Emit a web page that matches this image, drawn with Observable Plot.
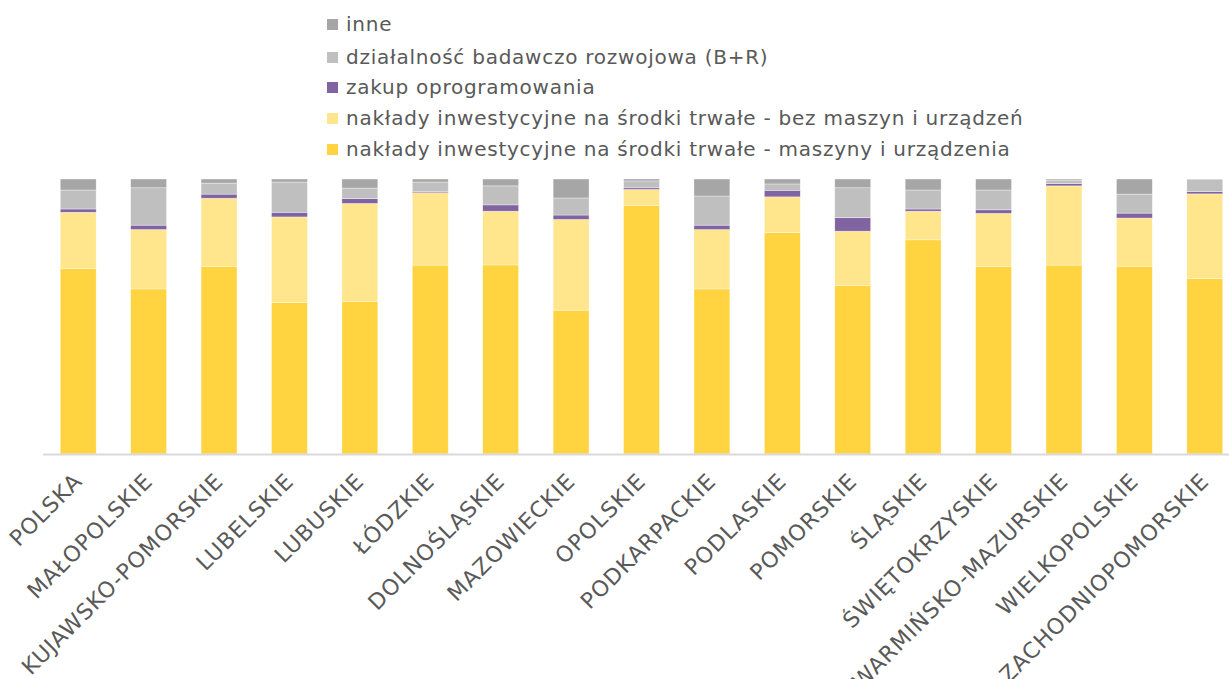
<!DOCTYPE html>
<html>
<head>
<meta charset="utf-8">
<script src="https://cdn.jsdelivr.net/npm/d3@7"></script>
<script src="https://cdn.jsdelivr.net/npm/@observablehq/plot@0.6"></script>
<style>
  body { margin: 0; background: #fff; font-family: "DejaVu Sans", sans-serif; }
  #legend { position: relative; height: 170px; width: 1229px; }
  .item { position: absolute; left: 327px; display: flex; align-items: center; color: #595959; font-size: 20px; letter-spacing: 0.75px; white-space: nowrap; }
  .sw { width: 11px; height: 11px; margin-right: 8px; }
</style>
</head>
<body>
<div id="legend"></div>
<div id="chart"></div>
<script>
const categories = ["POLSKA","MAŁOPOLSKIE","KUJAWSKO-POMORSKIE","LUBELSKIE","LUBUSKIE","ŁÓDZKIE","DOLNOŚLĄSKIE","MAZOWIECKIE","OPOLSKIE","PODKARPACKIE","PODLASKIE","POMORSKIE","ŚLĄSKIE","ŚWIĘTOKRZYSKIE","WARMIŃSKO-MAZURSKIE","WIELKOPOLSKIE","ZACHODNIOPOMORSKIE"];
const seriesNames = [
  "nakłady inwestycyjne na środki trwałe - maszyny i urządzenia",
  "nakłady inwestycyjne na środki trwałe - bez maszyn i urządzeń",
  "zakup oprogramowania",
  "działalność badawczo rozwojowa (B+R)",
  "inne"
];
const seriesColors = ["#ffd440", "#ffe58c", "#8064a2", "#bfbfbf", "#a6a6a6"];
const maszyny = [67.4,60.1,68.3,55.1,55.6,68.7,68.7,52.3,90.2,60.1,80.5,61.4,77.8,68.1,68.7,68.3,63.7];
const bezMaszyn = [20.5,21.6,24.8,31.1,35.6,26.3,19.5,33.0,5.9,21.6,13.0,19.7,10.4,19.4,28.8,17.5,30.8];
const oprogramowanie = [1.2,1.6,1.5,1.7,1.8,0.5,2.3,1.6,0.6,1.6,2.4,4.9,0.8,1.3,0.8,1.8,0.8];
const badawcze = [6.9,13.6,4.0,11.0,3.8,3.4,6.9,6.2,2.5,10.6,2.3,10.9,6.9,7.2,1.3,6.9,4.4];
const inne = [4.0,3.2,1.5,1.1,3.3,1.1,2.5,6.9,0.7,6.2,1.8,3.2,4.0,4.0,0.4,5.5,0.2];

const seriesValues = [maszyny, bezMaszyn, oprogramowanie, badawcze, inne];
const data = [];
seriesNames.forEach((s, si) => {
  categories.forEach((c, ci) => data.push({category: c, series: s, value: seriesValues[si][ci]}));
});

// legend (reverse order, top = inne)
const legend = document.getElementById("legend");
const tops = [12, 45, 75, 106, 137];
[...seriesNames].reverse().forEach((s, i) => {
  const color = seriesColors[seriesNames.length - 1 - i];
  const div = document.createElement("div");
  div.className = "item";
  div.style.top = tops[i] + "px";
  div.innerHTML = `<span class="sw" style="background:${color}"></span><span>${s}</span>`;
  legend.appendChild(div);
});

const chart = Plot.plot({
  width: 1229,
  height: 509,
  marginTop: 9,
  marginBottom: 225,
  marginLeft: 43,
  marginRight: 0,
  style: {fontFamily: "DejaVu Sans, sans-serif", fontSize: "22px", color: "#595959", background: "#fff", letterSpacing: "1px"},
  x: {domain: categories, range: [43, 1240], paddingInner: 0.49, paddingOuter: 0.245, round: false, label: null},
  y: {domain: [0, 1], axis: null},
  color: {domain: seriesNames, range: seriesColors},
  marks: [
    Plot.barY(data, Plot.stackY({offset: "normalize", order: null}, {x: "category", y: "value", fill: "series", stroke: "#ffffff", strokeOpacity: 0.6, strokeWidth: 0.6})),
    Plot.ruleY([0], {stroke: "#d9d9d9", strokeWidth: 2}),
    Plot.axisX({tickRotate: -45, tickSize: 0, tickPadding: 23, fill: "#595959", fontSize: 22, label: null})
  ]
});
document.getElementById("chart").appendChild(chart);
</script>
</body>
</html>
